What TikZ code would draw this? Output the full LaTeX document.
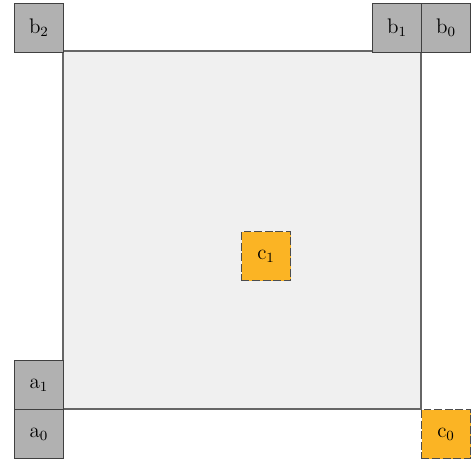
\documentclass[tikz,border=0pt]{standalone}
\usepackage{xcolor}
\usepackage{amsmath}
\usepackage{tikz}
\definecolor{cellgray}{HTML}{B1B1B1}
\definecolor{cellorange}{HTML}{FBB424}
\definecolor{areagray}{HTML}{F0F0F0}
\begin{document}
\begin{tikzpicture}[x=0.02cm, y=-0.02cm,
		every node/.style={font=\large, inner sep=0pt, minimum size=0.98cm, anchor=north west},
		grayblock/.style={draw=black!75, fill=cellgray, line width=0.5pt},
		orangeblock/.style={draw=black!70, fill=cellorange, dash pattern=on 4.5pt off 1.5pt, line width=0.6pt}]
		\useasboundingbox (0, 0) rectangle (473, 462);
		\pgfmathsetmacro\l{358}
		\coordinate (tl) at (63, 51);
		\coordinate (br) at (63 + \l, 51 + \l);
		\fill[areagray] (tl) rectangle (br);
		\draw[black!60, line width=0.6pt] (tl) rectangle (br);
		\node[grayblock] (b2) at (14, 3) {b$_2$};
		\node[grayblock] (b1) at (372, 3) {b$_1$};
		\node[grayblock] (b0) at (421, 3) {b$_0$};
		\node[grayblock] (a1) at (14, 360) {a$_1$};
		\node[grayblock] (a0) at (14, 409) {a$_0$};
		\node[orangeblock] (c1) at (241, 231) {c$_1$};
		\node[orangeblock] (c0) at (421, 409) {c$_0$};
	\end{tikzpicture}
\end{document}
